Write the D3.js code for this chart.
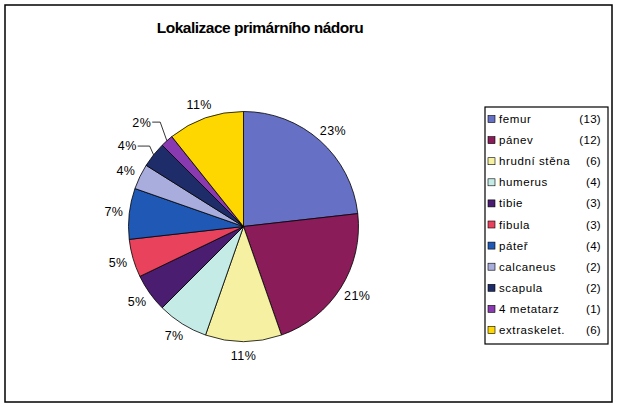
<!DOCTYPE html>
<html><head><meta charset="utf-8">
<script src="https://cdn.jsdelivr.net/npm/d3@7"></script>
<style>html,body{margin:0;padding:0;background:#fff}svg{display:block}</style>
</head><body>
<script>
const categories = ["femur","pánev","hrudní stěna","humerus","tibie","fibula","páteř","calcaneus","scapula","4 metatarz","extraskelet."];
const counts = [13,12,6,4,3,3,4,2,2,1,6];
const colors = ["#6670c4","#8a1c5a","#f6f0a2","#c4ebe5","#4a1d70","#e8425c","#2058b6","#a8addd","#1f2c6a","#8a3ab0","#ffd700"];
const title = "Lokalizace primárního nádoru";
const leaderCats = ["scapula","4 metatarz"];

const W = 619, H = 408;
const svg = d3.select("body").append("svg").attr("width", W).attr("height", H);
svg.append("rect").attr("x",5).attr("y",5).attr("width",607).attr("height",397)
  .attr("fill","#fff").attr("stroke","#000").attr("stroke-width",1.5);

svg.append("text").attr("x",260).attr("y",33).attr("text-anchor","middle")
  .attr("font-family","Arial, 'Liberation Sans', sans-serif").attr("font-weight","bold")
  .attr("font-size",15.5).attr("letter-spacing",-0.5).text(title);

const data = categories.map((c,i)=>({cat:c, v:counts[i], color:colors[i]}));
const total = d3.sum(counts);
const cx = 243.5, cy = 226.5, r = 115;
const pie = d3.pie().value(d=>d.v).sort(null);
const arc = d3.arc().innerRadius(0).outerRadius(r);
const arcs = pie(data);
const g = svg.append("g").attr("transform",`translate(${cx},${cy})`);
g.selectAll("path").data(arcs).join("path").attr("d",arc)
  .attr("fill",d=>d.data.color).attr("stroke","#000").attr("stroke-width",0.8);

const fmt = v => Math.round(v/total*100) + "%";
const font = "Arial, 'Liberation Sans', sans-serif";
const gap = 8, lh = 12;
arcs.forEach(d=>{
  const a = (d.startAngle+d.endAngle)/2;
  const s = Math.sin(a), c = Math.cos(a);
  const txt = fmt(d.data.v);
  if (leaderCats.includes(d.data.cat)) {
    const isMeta = d.data.cat === "4 metatarz";
    const er = isMeta ? 140 : 129;
    const hl = isMeta ? 8 : 12;
    const p0 = [r*s, -r*c];
    const p1 = [er*s + (isMeta?10:7), -er*c];
    const p2 = [p1[0]-hl, p1[1]];
    g.append("polyline").attr("points",[p0,p1,p2].map(p=>p.join(",")).join(" "))
      .attr("fill","none").attr("stroke","#000").attr("stroke-width",0.8);
    g.append("text").attr("x",p2[0]-1).attr("y",p2[1]).attr("dy","0.35em")
      .attr("text-anchor","end").attr("font-family",font).attr("font-size",12.5)
      .attr("letter-spacing",0.4).text(txt);
  } else {
    const w = txt.length*7.5;
    const x = (r+gap)*s + (w/2)*s;
    const y = -(r+gap)*c - (lh/2)*c;
    g.append("text").attr("x",x).attr("y",y).attr("dy","0.35em")
      .attr("text-anchor","middle").attr("font-family",font).attr("font-size",12.5)
      .attr("letter-spacing",0.4).text(txt);
  }
});

// legend
const lx = 485, ly = 107, lw = 123, lhgt = 237;
svg.append("rect").attr("x",lx).attr("y",ly).attr("width",lw).attr("height",lhgt)
  .attr("fill","#fff").attr("stroke","#000").attr("stroke-width",1.2);
const rowY = d3.scalePoint().domain(categories).range([119,330]);
const lg = svg.append("g");
const rows = lg.selectAll("g").data(data).join("g").attr("transform",d=>`translate(0,${rowY(d.cat)})`);
rows.append("rect").attr("x",488).attr("y",-3.5).attr("width",7).attr("height",7)
  .attr("fill",d=>d.color).attr("stroke","#000").attr("stroke-width",0.6);
rows.append("text").attr("x",499).attr("dy","0.35em").attr("font-family",font)
  .attr("font-size",11.5).attr("letter-spacing",0.6).text(d=>d.cat);
rows.append("text").attr("x",601).attr("dy","0.35em").attr("text-anchor","end")
  .attr("font-family",font).attr("font-size",11.5).attr("letter-spacing",0.3)
  .text(d=>"("+d.v+")");
</script>
</body></html>
